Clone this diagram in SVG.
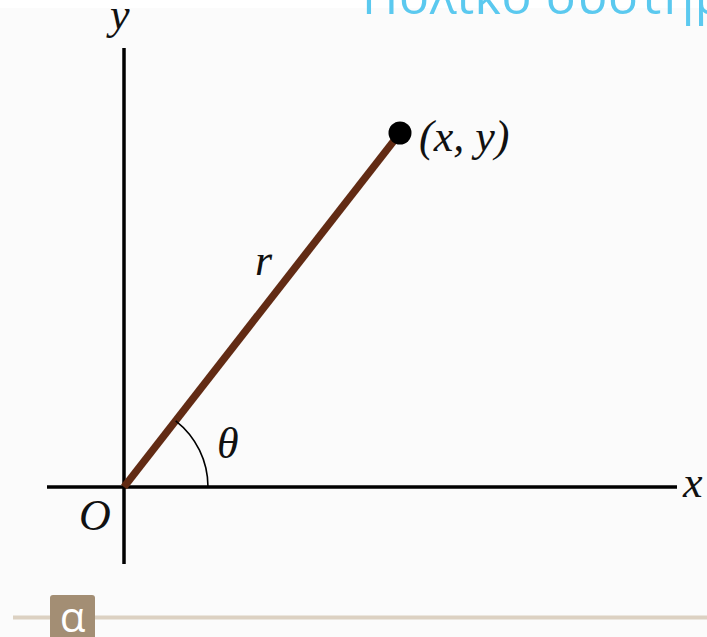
<svg xmlns="http://www.w3.org/2000/svg" width="707" height="637" viewBox="0 0 707 637">
<defs>
<style>
.m{font-family:"Liberation Serif","DejaVu Serif",serif;font-style:italic;font-size:44px;fill:#111}
.ax{stroke:#000;stroke-width:3.5;fill:none}
</style>
</defs>
<rect x="0" y="0" width="707" height="637" fill="#fbfbfb"/>
<rect x="0" y="0" width="707" height="8" fill="#ffffff"/>
<text x="362" y="14" font-family="'Open Sans','Noto Sans',sans-serif" font-size="50" letter-spacing="0.6" fill="#5bc9ef">Πολικό σύστημα</text>
<g id="axes">
<line class="ax" x1="47" y1="487" x2="677" y2="487"/>
<line class="ax" x1="124" y1="48" x2="124" y2="564"/>
</g>
<g id="connectors">
<line x1="124" y1="487" x2="400" y2="133" stroke="#622b14" stroke-width="7.5"/>
<path d="M208 487 A84 84 0 0 0 175.7 420.8" fill="none" stroke="#000" stroke-width="1.6"/>
</g>
<g id="point">
<circle cx="400" cy="133" r="11.5" fill="#000"/>
<text class="m" x="419" y="151" font-size="46">(x, y)</text>
</g>
<g id="labels">
<text class="m" x="110" y="29">y</text>
<text class="m" x="683" y="497">x</text>
<text class="m" x="255" y="275">r</text>
<text class="m" x="217" y="458">θ</text>
<text class="m" x="79" y="530">O</text>
</g>
<g id="footer">
<line x1="13" y1="617.5" x2="707" y2="617.5" stroke="#dcd1c2" stroke-width="4"/>
<path d="M50 637 V598 Q50 595 53 595 H92 Q95 595 95 598 V637 Z" fill="#a38e74"/>
<text x="72.5" y="632" text-anchor="middle" font-family="'Open Sans','Noto Sans',sans-serif" font-size="42" fill="#fff">α</text>
</g>
</svg>
